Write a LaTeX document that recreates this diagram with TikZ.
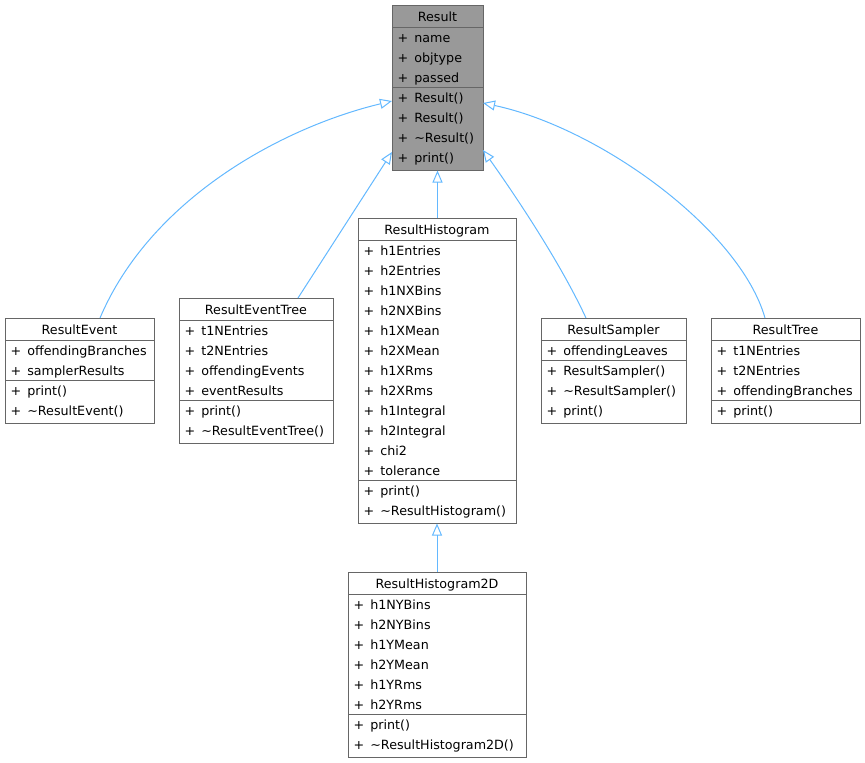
\documentclass[tikz,border=0pt]{standalone}
\usepackage{fontspec}
\setmainfont{DejaVu Sans}
\usetikzlibrary{arrows.meta,calc}
\definecolor{boxline}{HTML}{666666}
\definecolor{rootfill}{HTML}{999999}
\definecolor{edgeblue}{HTML}{63B8FF}
\tikzset{
  classbox/.style={draw=boxline, line width=1pt, inner sep=0pt, outer sep=0pt, rectangle},
  titletext/.style={inner sep=0pt, font=\fontsize{12.7}{15}\selectfont, text height=9.5pt, text depth=3pt},
  rowtext/.style={anchor=west, inner sep=0pt, font=\fontsize{12.7}{15}\selectfont, text height=9.5pt, text depth=3pt},
  sepline/.style={draw=boxline, line width=1pt},
  inherit/.style={draw=edgeblue, line width=1pt, -{Triangle[open, length=12pt, width=10pt]}},
}
\def\boxfill{white}
% #1 name, #2 x, #3 ytop, #4 width, #5 title, #6 n attrs, #7 attrs, #8 n methods, #9 methods
\newcommand\classbox[9]{%
  \pgfmathsetmacro\cbya{#3+22.5}%
  \pgfmathsetmacro\cbyb{\cbya+20*#6}%
  \pgfmathsetmacro\cbyc{\cbyb+20*#8+3}%
  \pgfmathsetmacro\cbh{\cbyc-#3}%
  \node[classbox, fill=\boxfill, minimum width=#4pt, minimum height=\cbh pt, anchor=north west] (#1) at (#2,#3) {};
  \node[titletext] (#1-title) at (#2+#4/2,#3+13.3) {#5};
  \draw[sepline] (#2,\cbya) -- ++(#4,0);
  \draw[sepline] (#2,\cbyb) -- ++(#4,0);
  \foreach \t [count=\i] in {#7} {\node[rowtext] (#1-a\i) at (#2+5.5,\cbya+20*\i-8.3) {+\hspace{6pt}\t};}
  \foreach \t [count=\i] in {#9} {\node[rowtext] (#1-m\i) at (#2+5.5,\cbyb+20*\i-8.3) {+\hspace{6pt}\t};}
}
\begin{document}
\begin{tikzpicture}[x=1pt,y=-1pt]
\useasboundingbox (0,0) rectangle (865,763);
\def\boxfill{rootfill}
\classbox{Result}{392}{5}{91}{Result}{3}{name,objtype,passed}{4}{Result(),Result(),\textasciitilde Result(),print()}
\def\boxfill{white}
\classbox{ResultEvent}{5}{318}{149}{ResultEvent}{2}{offendingBranches,samplerResults}{2}{print(),\textasciitilde ResultEvent()}
\classbox{ResultEventTree}{179}{298}{154}{ResultEventTree}{4}{t1NEntries,t2NEntries,offendingEvents,eventResults}{2}{print(),\textasciitilde ResultEventTree()}
\classbox{ResultHistogram}{358}{218}{158}{ResultHistogram}{12}{h1Entries,h2Entries,h1NXBins,h2NXBins,h1XMean,h2XMean,h1XRms,h2XRms,h1Integral,h2Integral,chi2,tolerance}{2}{print(),\textasciitilde ResultHistogram()}
\classbox{ResultSampler}{541}{318}{145}{ResultSampler}{1}{offendingLeaves}{3}{ResultSampler(),\textasciitilde ResultSampler(),print()}
\classbox{ResultTree}{711}{318}{149}{ResultTree}{3}{t1NEntries,t2NEntries,offendingBranches}{1}{print()}
\classbox{ResultHistogram2D}{348}{572}{178}{ResultHistogram2D}{6}{h1NYBins,h2NYBins,h1YMean,h2YMean,h1YRms,h2YRms}{2}{print(),\textasciitilde ResultHistogram2D()}
% inheritance edges
\draw[inherit] ($(ResultEvent.north)+(20.5,0)$) .. controls (150,200) and (280,128) .. ($(Result.north west)+(0,96)$);
\draw[inherit] ($(ResultEventTree.north)+(42,0)$) -- ($(Result.north west)+(0,147)$);
\draw[inherit] ($(ResultHistogram.north)+(0.5,0)$) -- (Result.south);
\draw[inherit] ($(ResultSampler.north)+(-27.5,0)$) .. controls (560,262) and (515,195) .. ($(Result.north east)+(0,145)$);
\draw[inherit] ($(ResultTree.north)+(-20.5,0)$) .. controls (740,230) and (600,128) .. ($(Result.north east)+(0,98)$);
\draw[inherit] (ResultHistogram2D.north) -- (ResultHistogram.south);
\end{tikzpicture}
\end{document}
